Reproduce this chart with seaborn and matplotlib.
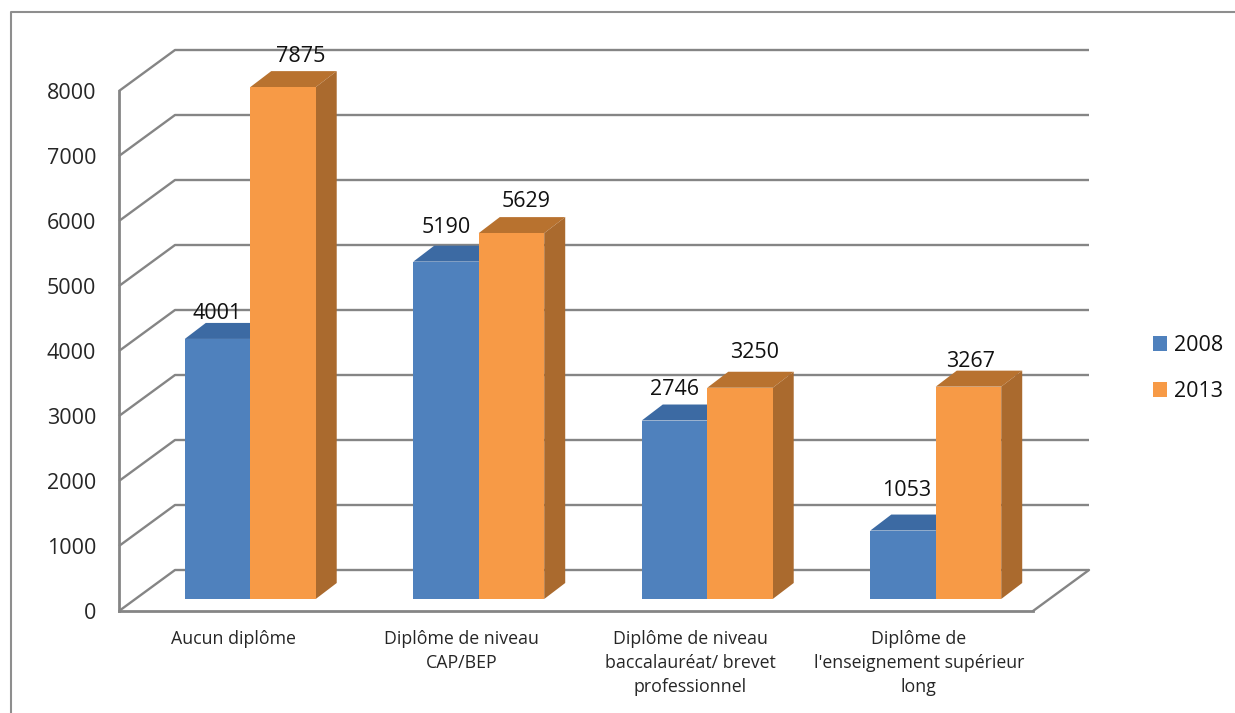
import matplotlib
matplotlib.use("Agg")
import matplotlib.pyplot as plt
from matplotlib.lines import Line2D
import pandas as pd
import seaborn as sns

# Values by qualification level
categories = [
    "Aucun diplôme",
    "Diplôme de niveau\nCAP/BEP",
    "Diplôme de niveau\nbaccalauréat/ brevet\nprofessionnel",
    "Diplôme de\nl'enseignement supérieur\nlong",
]
values_2008 = [4001, 5190, 2746, 1053]
values_2013 = [7875, 5629, 3250, 3267]
years = ["2008", "2013"]
y_ticks = [0, 1000, 2000, 3000, 4000, 5000, 6000, 7000, 8000]

# Pixel nudges of the value labels from each bar's top centre
label_nudges_2008 = [(0, 25), (0, 34), (0, 31), (4, 40)]
label_nudges_2013 = [(18, 31), (15, 32), (15, 35), (2, 25)]

W, H = 1235, 713
FONT = "Open Sans"
GREY = "#858585"
FRONT = {"2008": "#4F81BD", "2013": "#F79A46"}
TOP = {"2008": "#3C6AA3", "2013": "#B8722F"}
SIDE = {"2008": "#34608F", "2013": "#AA6A2E"}

sns.set_theme(style="white")
plt.rcParams["font.family"] = [FONT, "DejaVu Sans"]
plt.rcParams["text.color"] = "#111111"

table = pd.DataFrame({
    "niveau": categories * 2,
    "annee": [years[0]] * 4 + [years[1]] * 4,
    "effectif": values_2008 + values_2013,
})


def px_axes(fig, left, right, bottom, top):
    """Axes placed by pixel edges, measured from the top of the figure."""
    return fig.add_axes([left / W, 1 - bottom / H, (right - left) / W, (bottom - top) / H])


fig = plt.figure(figsize=(W / 100, H / 100), dpi=100, facecolor="white")

# Chart-area border, open on the right and at the bottom
fig.add_artist(Line2D([11 / W, 11 / W, 1], [0, 1 - 12 / H, 1 - 12 / H],
                      color="#8E8E8E", lw=1.5, transform=fig.transFigure))

# Front plane: carries the axis, the tick labels and the receding gridlines
frame = px_axes(fig, 119, 1033, 611, 91)
frame.set_zorder(1)
frame.set_xlim(-0.5, 3.5)
frame.set_ylim(0, 8000)
frame.set_xticks(range(len(categories)), categories)
frame.set_yticks(y_ticks)
frame.tick_params(axis="y", length=0, pad=16.5, labelsize=15.5)
frame.tick_params(axis="x", length=0, pad=13.5, labelsize=12.8)
for lab in frame.get_xticklabels():
    lab.set_linespacing(1.42)
for name in ("top", "right"):
    frame.spines[name].set_visible(False)
for name in ("left", "bottom"):
    frame.spines[name].set_color(GREY)
    frame.spines[name].set_linewidth(2.0)

wall_dx = 56 / (914 / 4)
wall_dy = 41 / 65 * 1000
for v in y_ticks:
    frame.plot([-0.5, -0.5 + wall_dx, 3.5 + wall_dx], [v, v + wall_dy, v + wall_dy],
               color=GREY, lw=1.7, clip_on=False, solid_capstyle="butt", zorder=1)
frame.plot([3.5, 3.5 + wall_dx], [0, wall_dy], color=GREY, lw=1.7, clip_on=False, zorder=1)

# Bar plane: set back from the front plane, holds the columns
ax = px_axes(fig, 136, 1050, 599, 79)
ax.set_zorder(2)
ax.patch.set_visible(False)
sns.barplot(data=table, x="niveau", y="effectif", hue="annee", hue_order=years,
            order=categories, palette=FRONT, saturation=1, width=0.573, gap=0,
            linewidth=0, legend=False, ax=ax, zorder=5)
ax.set_xlim(-0.5, 3.5)
ax.set_ylim(0, 8000)
ax.axis("off")

bar_dx = 21 / (914 / 4)
bar_dy = 16 / 65 * 1000
for year, bars, nudges, vals, z in zip(years, ax.containers,
                                       (label_nudges_2008, label_nudges_2013),
                                       (values_2008, values_2013), (2, 6)):
    for bar, (nx, ny), v in zip(bars, nudges, vals):
        x0, w, h = bar.get_x(), bar.get_width(), bar.get_height()
        bar.set_zorder(z + 1)
        bar.set_edgecolor("none")
        x1 = x0 + w
        ax.fill([x0, x0 + bar_dx, x1 + bar_dx, x1], [h, h + bar_dy, h + bar_dy, h],
                color=TOP[year], lw=0, clip_on=False, zorder=z)
        ax.fill([x1, x1 + bar_dx, x1 + bar_dx, x1], [0, bar_dy, h + bar_dy, h],
                color=SIDE[year], lw=0, clip_on=False, zorder=z)
        ax.annotate(str(v), (x0 + w / 2, h), xytext=(nx, ny), textcoords="offset pixels",
                    ha="center", va="center", fontsize=15.5, annotation_clip=False, zorder=10)

handles = [plt.Rectangle((0, 0), 1, 1, color=FRONT[y], lw=0) for y in years]
fig.legend(handles, years, loc="center left", bbox_to_anchor=(1153 / W, 1 - 368.5 / H),
           frameon=False, fontsize=15.5, handlelength=0.65, handleheight=0.65,
           handletextpad=0.31, labelspacing=1.17, borderpad=0, borderaxespad=0)

fig.savefig("out.png", dpi=100, facecolor="white")
